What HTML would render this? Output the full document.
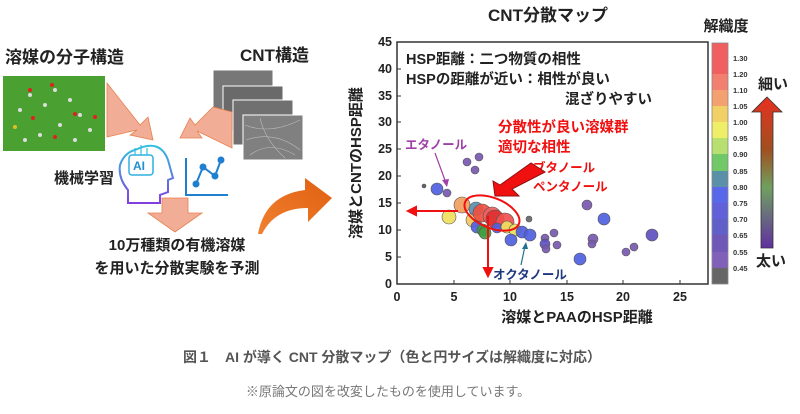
<!DOCTYPE html>
<html><head><meta charset="utf-8">
<style>
body{margin:0;background:#fff;width:800px;height:409px;overflow:hidden;font-family:"Liberation Sans","Noto Sans CJK JP",sans-serif;}
svg text{font-family:"Liberation Sans","Noto Sans CJK JP",sans-serif;}
</style></head><body>
<svg width="800" height="409" viewBox="0 0 800 409" xmlns="http://www.w3.org/2000/svg">
<defs>
<linearGradient id="ag" x1="0" y1="0" x2="0" y2="1">
<stop offset="0" stop-color="#e83020"/><stop offset="0.35" stop-color="#a05020"/><stop offset="0.6" stop-color="#70a060"/><stop offset="1" stop-color="#6030a0"/>
</linearGradient>
<linearGradient id="hg" x1="0" y1="0" x2="0" y2="1"><stop offset="0" stop-color="#30c0e0"/><stop offset="1" stop-color="#8040e0"/></linearGradient>
<linearGradient id="og" x1="0" y1="1" x2="1" y2="0"><stop offset="0" stop-color="#f08030"/><stop offset="1" stop-color="#e06010"/></linearGradient>
</defs>

<!-- LEFT PANEL -->
<text x="5" y="63" font-size="17" font-weight="bold" fill="#222">溶媒の分子構造</text>
<text x="240" y="61" font-size="17" font-weight="bold" fill="#222">CNT構造</text>
<rect x="3" y="76" width="102" height="75" fill="#4aa030"/>
<g fill="#ddd"><circle cx="20" cy="110" r="2"/><circle cx="30" cy="95" r="2"/><circle cx="45" cy="105" r="2"/><circle cx="55" cy="90" r="2"/><circle cx="70" cy="100" r="2"/><circle cx="80" cy="115" r="2"/><circle cx="60" cy="125" r="2"/><circle cx="40" cy="135" r="2"/><circle cx="90" cy="130" r="2"/><circle cx="25" cy="140" r="2"/><circle cx="75" cy="140" r="2"/></g>
<g fill="#e02020"><circle cx="30" cy="90" r="2"/><circle cx="52" cy="85" r="2"/><circle cx="33" cy="118" r="2"/><circle cx="75" cy="114" r="2"/><circle cx="55" cy="137" r="2"/><circle cx="95" cy="117" r="2"/></g>
<circle cx="15" cy="127" r="2" fill="#e0c020"/>
<g stroke="#fff" stroke-width="1">
<rect x="213" y="70" width="60" height="45" fill="#777"/>
<rect x="223" y="86" width="60" height="45" fill="#6a6a6a"/>
<rect x="233" y="100" width="60" height="45" fill="#707070"/>
<rect x="243" y="115" width="60" height="45" fill="#808080"/>
</g>
<g stroke="#bbb" stroke-width="0.6" fill="none"><path d="M245 125 Q270 135 300 120 M246 140 Q275 130 300 150 M250 155 Q270 140 295 155 M260 118 Q265 140 285 158"/></g>
<path d="M107 83 L140 125 L148 117 L153 140 L130 135 L137 130 L107 137 Z" fill="#f2ad96" stroke="#e88050" stroke-width="0.8"/>
<path d="M213 107 L195 125 L190 118 L180 138 L202 138 L197 131 L232 148 L232 112 Z" fill="#f2ad96" stroke="#e88050" stroke-width="0.8"/>
<path d="M135 150 Q160 138 168 160 L173 178 L168 180 L168 192 L160 195 L160 203 L128 203 L128 190 Q118 178 120 165 Q124 153 135 150" fill="none" stroke="url(#hg)" stroke-width="2"/>
<rect x="129" y="155" width="24" height="20" rx="3" fill="#fff" stroke="#30b0e0" stroke-width="1.5"/>
<text x="133" y="170" font-size="12" font-weight="bold" fill="#2090d0">AI</text>
<g stroke="#30c0e0" stroke-width="1.2"><line x1="135" y1="155" x2="135" y2="148"/><line x1="141" y1="155" x2="141" y2="145"/><line x1="147" y1="155" x2="147" y2="148"/></g>
<path d="M186 158 L186 195 L228 195" fill="none" stroke="#2080d0" stroke-width="2"/>
<polyline points="196,184 203,167 215,176 221,160" fill="none" stroke="#2080d0" stroke-width="2"/>
<g fill="#2080d0"><circle cx="196" cy="184" r="3.5"/><circle cx="203" cy="167" r="3.5"/><circle cx="215" cy="176" r="3.5"/><circle cx="221" cy="160" r="3.5"/></g>
<text x="54" y="183" font-size="15" font-weight="bold" fill="#222">機械学習</text>
<path d="M162 198 L188 198 L188 213 L202 213 L175 232 L148 213 L162 213 Z" fill="#f2ad96" stroke="#e88050" stroke-width="0.8"/>
<text x="177" y="250" font-size="15" font-weight="bold" fill="#222" text-anchor="middle">10万種類の有機溶媒</text>
<text x="177" y="273" font-size="15" font-weight="bold" fill="#222" text-anchor="middle">を用いた分散実験を予測</text>
<path d="M258 234 Q265 195 305 190 L305 178 L332 198 L308 222 L308 208 Q275 208 262 234 Z" fill="url(#og)"/>

<!-- CHART -->
<text x="548" y="21" font-size="17" font-weight="bold" fill="#222" text-anchor="middle">CNT分散マップ</text>
<text x="726" y="31" font-size="15" font-weight="bold" fill="#222" text-anchor="middle">解織度</text>
<rect x="397" y="42" width="311" height="242" fill="#fff" stroke="#333" stroke-width="1.5"/>
<g font-size="12.5" font-weight="bold" fill="#222" text-anchor="end">
<text x="392" y="288">0</text><text x="392" y="261">5</text><text x="392" y="234">10</text><text x="392" y="207">15</text><text x="392" y="180">20</text><text x="392" y="153">25</text><text x="392" y="126">30</text><text x="392" y="100">35</text><text x="392" y="73">40</text><text x="392" y="46">45</text>
</g>
<g font-size="12.5" font-weight="bold" fill="#222" text-anchor="middle">
<text x="397" y="301">0</text><text x="454" y="301">5</text><text x="510" y="301">10</text><text x="567" y="301">15</text><text x="623" y="301">20</text><text x="680" y="301">25</text>
</g>
<g stroke="#333" stroke-width="1">
<line x1="397" y1="257" x2="401" y2="257"/><line x1="397" y1="230" x2="401" y2="230"/><line x1="397" y1="203" x2="401" y2="203"/><line x1="397" y1="176" x2="401" y2="176"/><line x1="397" y1="149" x2="401" y2="149"/><line x1="397" y1="122" x2="401" y2="122"/><line x1="397" y1="96" x2="401" y2="96"/><line x1="397" y1="69" x2="401" y2="69"/>
<line x1="454" y1="284" x2="454" y2="280"/><line x1="510" y1="284" x2="510" y2="280"/><line x1="567" y1="284" x2="567" y2="280"/><line x1="623" y1="284" x2="623" y2="280"/><line x1="680" y1="284" x2="680" y2="280"/>
</g>
<text x="577" y="322" font-size="15" font-weight="bold" fill="#222" text-anchor="middle">溶媒とPAAのHSP距離</text>
<text transform="translate(361,163) rotate(-90)" font-size="15" font-weight="bold" fill="#222" text-anchor="middle">溶媒とCNTのHSP距離</text>

<g font-size="14.5" font-weight="bold" fill="#222">
<text x="406" y="64">HSP距離：二つ物質の相性</text>
<text x="406" y="84">HSPの距離が近い：相性が良い</text>
<text x="565" y="104">混ざりやすい</text>
</g>
<g font-size="14.5" font-weight="bold" fill="#f01010">
<text x="498" y="132">分散性が良い溶媒群</text>
<text x="498" y="152">適切な相性</text>
</g>
<g font-size="12.5" font-weight="bold" fill="#f01010">
<text x="533" y="172">ブタノール</text>
<text x="533" y="191">ペンタノール</text>
</g>
<text x="405" y="149" font-size="12.5" font-weight="bold" fill="#a040a8">エタノール</text>
<text x="493" y="279" font-size="12.5" font-weight="bold" fill="#203880">オクタノール</text>

<g stroke="#555" stroke-width="0.6" fill-opacity="0.92">
<circle cx="424" cy="186" r="2" fill="#555"/>
<circle cx="437" cy="189" r="6" fill="#5060e0"/>
<circle cx="447" cy="193" r="4" fill="#7858b0"/>
<circle cx="467" cy="162" r="4" fill="#7858b0"/>
<circle cx="479" cy="157" r="4" fill="#7858b0"/>
<circle cx="475" cy="170" r="4" fill="#7858b0"/>
<circle cx="462" cy="205" r="8" fill="#f0a060"/>
<circle cx="449" cy="217" r="7" fill="#f0e060"/>
<circle cx="473" cy="220" r="7" fill="#f4c860"/>
<circle cx="476" cy="209" r="7" fill="#5a8fb0"/>
<circle cx="477" cy="227" r="6" fill="#5060e0"/>
<circle cx="483" cy="230" r="6" fill="#40a040"/>
<circle cx="485" cy="233" r="6" fill="#40a040"/>
<circle cx="482" cy="213" r="9" fill="#f05040"/>
<circle cx="492" cy="216" r="9" fill="#f06060"/>
<circle cx="495" cy="219" r="9" fill="#e03030"/>
<circle cx="505" cy="222" r="9" fill="#f05050"/>
<circle cx="497" cy="228" r="5" fill="#5060e0"/>
<circle cx="507" cy="227" r="6" fill="#f0e060"/>
<circle cx="515" cy="230" r="6" fill="#f0e060"/>
<circle cx="511" cy="240" r="6" fill="#5060e0"/>
<circle cx="522" cy="232" r="6" fill="#5060e0"/>
<circle cx="530" cy="235" r="6" fill="#5060e0"/>
<circle cx="529" cy="219" r="3" fill="#666"/>
<circle cx="545" cy="238" r="4" fill="#7858b0"/>
<circle cx="554" cy="233" r="4" fill="#7858b0"/>
<circle cx="545" cy="244" r="5" fill="#6050c0"/>
<circle cx="546" cy="249" r="4" fill="#7858b0"/>
<circle cx="557" cy="245" r="4" fill="#7858b0"/>
<circle cx="587" cy="205" r="5" fill="#7858b0"/>
<circle cx="604" cy="219" r="6" fill="#5060e0"/>
<circle cx="593" cy="239" r="5" fill="#7858b0"/>
<circle cx="592" cy="244" r="4" fill="#7858b0"/>
<circle cx="580" cy="259" r="6" fill="#5060e0"/>
<circle cx="626" cy="252" r="4" fill="#7858b0"/>
<circle cx="634" cy="247" r="4" fill="#7858b0"/>
<circle cx="652" cy="235" r="6" fill="#6050c0"/>
</g>
<ellipse cx="492" cy="213" rx="29" ry="15" transform="rotate(22 492 213)" fill="none" stroke="#f01010" stroke-width="2"/>
<g stroke="#f01010" stroke-width="2" fill="#f01010">
<line x1="458" y1="211" x2="414" y2="211"/><path d="M408 211 L416 207 L416 215 Z"/>
<line x1="488" y1="216" x2="488" y2="270"/><path d="M488 276 L484 268 L492 268 Z"/>
</g>
<path d="M545 172 L512 189 L519 196 L495 196 L493 181 L500 185 L531 163 Z" fill="#f01010" stroke="#901010" stroke-width="1"/>
<line x1="435" y1="153" x2="446" y2="183" stroke="#a040a8" stroke-width="1.2"/><path d="M447 187 L442 180 L449 179 Z" fill="#a040a8"/>
<line x1="521" y1="265" x2="525" y2="246" stroke="#207090" stroke-width="1.2"/><path d="M526 242 L522 249 L528 249 Z" fill="#207090"/>

<!-- colorbar -->
<g>
<rect x="712" y="43" width="16" height="15" fill="#f06060"/>
<rect x="712" y="58" width="16" height="16" fill="#f06060"/>
<rect x="712" y="74" width="16" height="16" fill="#f28070"/>
<rect x="712" y="90" width="16" height="16" fill="#f4a070"/>
<rect x="712" y="106" width="16" height="16" fill="#f2d068"/>
<rect x="712" y="122" width="16" height="16" fill="#eeee68"/>
<rect x="712" y="138" width="16" height="16" fill="#b8e070"/>
<rect x="712" y="154" width="16" height="17" fill="#70c868"/>
<rect x="712" y="171" width="16" height="16" fill="#5a90a8"/>
<rect x="712" y="187" width="16" height="16" fill="#5868e8"/>
<rect x="712" y="203" width="16" height="16" fill="#6060d8"/>
<rect x="712" y="219" width="16" height="16" fill="#6060c8"/>
<rect x="712" y="235" width="16" height="17" fill="#7058b8"/>
<rect x="712" y="252" width="16" height="16" fill="#8060b8"/>
<rect x="712" y="268" width="16" height="16" fill="#666"/>
<rect x="712" y="43" width="16" height="241" fill="none" stroke="#888" stroke-width="0.8"/>
</g>
<g font-size="7.5" font-weight="bold" fill="#333">
<text x="733" y="61">1.30</text><text x="733" y="77">1.20</text><text x="733" y="93">1.10</text><text x="733" y="109">1.05</text><text x="733" y="125">1.00</text><text x="733" y="141">0.95</text><text x="733" y="157">0.90</text><text x="733" y="174">0.85</text><text x="733" y="190">0.80</text><text x="733" y="206">0.75</text><text x="733" y="222">0.70</text><text x="733" y="238">0.65</text><text x="733" y="255">0.55</text><text x="733" y="271">0.45</text>
</g>
<text x="758" y="89" font-size="15" font-weight="bold" fill="#222">細い</text>
<path d="M767 97 L782 112 L773 112 L773 248 L761 248 L761 112 L752 112 Z" fill="url(#ag)" stroke="#333" stroke-width="0.8"/>
<text x="756" y="266" font-size="15" font-weight="bold" fill="#222">太い</text>

<text x="392" y="362" font-size="14" font-weight="bold" fill="#555" text-anchor="middle">図１　AI が導く CNT 分散マップ（色と円サイズは解織度に対応）</text>
<text x="388" y="396" font-size="13" fill="#777" text-anchor="middle">※原論文の図を改変したものを使用しています。</text>
</svg>
</body></html>
